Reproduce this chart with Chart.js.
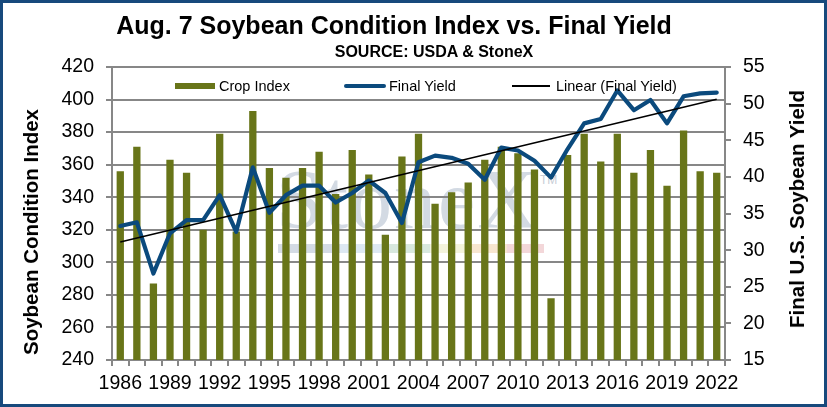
<!DOCTYPE html>
<html lang="en">
<head>
<meta charset="UTF-8">
<title>Aug. 7 Soybean Condition Index vs. Final Yield</title>
<script src="https://cdn.jsdelivr.net/npm/chart.js"></script>
<style>
    html, body { margin: 0; padding: 0; background: #fff; }
    #quadro {
        position: relative;
        width: 827px;
        height: 407px;
        overflow: hidden;
        font-family: "Liberation Sans", Arial, sans-serif;
        color: #000;
    }
    #moldura {
        position: absolute; left: 0; top: 0; right: 0; bottom: 0;
        border: 3px solid #17497c;
        pointer-events: none;
        z-index: 5;
    }
    #grafico { position: absolute; left: 0; top: 0; z-index: 2; }
    .marca {
        position: absolute; z-index: 1;
        font-family: "Liberation Serif", "Times New Roman", serif;
        font-size: 84px; line-height: 1;
        color: #d3dae3; letter-spacing: 2px;
        left: 276px; top: 158px;
        white-space: nowrap;
    }
    .marca sup { font-family: "Liberation Sans", sans-serif; font-size: 12px; letter-spacing: 0; vertical-align: 44px; color: #c8ced6; }
    .faixa {
        position: absolute; z-index: 1; left: 278px; top: 244px; width: 266px; height: 9px;
        background: linear-gradient(to right,
            #d4dbe4 0, #d4dbe4 62px, #dde8f2 62px, #dde8f2 110px,
            #d8e8de 112px, #d8e8de 152px, #f3f3dc 152px, #f3f3dc 192px,
            #f7e6d0 192px, #f7e6d0 229px, #f3d7d9 229px, #f3d7d9 266px);
    }
    .titulo, .subtitulo, .eixo, .leg { position: absolute; white-space: nowrap; z-index: 3; }
    .titulo { font-weight: bold; font-size: 25px; left: 394px; top: 25px; transform: translate(-50%, -50%); }
    .subtitulo { font-weight: bold; font-size: 16px; left: 434px; top: 52px; transform: translate(-50%, -50%); }
    .eixo { font-weight: bold; font-size: 20.5px; transform: translate(-50%, -50%) rotate(-90deg); }
    .leg { font-size: 14.5px; top: 86px; transform: translateY(-50%); }
    .amostra { position: absolute; z-index: 3; }
</style>
</head>
<body>
<div id="quadro">
    <div class="marca">StoneX<sup>TM</sup></div>
    <div class="faixa"></div>

    <canvas id="grafico" width="827" height="407"></canvas>

    <div class="titulo">Aug. 7 Soybean Condition Index vs. Final Yield</div>
    <div class="subtitulo">SOURCE: USDA &amp; StoneX</div>
    <div class="eixo" style="left:31px; top:232px;">Soybean Condition Index</div>
    <div class="eixo" style="left:797px; top:209px;">Final U.S. Soybean Yield</div>

    <div id="legenda"></div>
    <div id="moldura"></div>
</div>

<script>
    // anos da safra
    const anos = ['1986', '1987', '1988', '1989', '1990', '1991', '1992', '1993', '1994', '1995',
        '1996', '1997', '1998', '1999', '2000', '2001', '2002', '2003', '2004', '2005',
        '2006', '2007', '2008', '2009', '2010', '2011', '2012', '2013', '2014', '2015',
        '2016', '2017', '2018', '2019', '2020', '2021', '2022'];

    // indice de condicao em 7 de agosto (eixo esquerdo)
    const indiceCondicao = [356, 371, 287, 363, 355, 320, 379, 319, 393, 358,
        352, 358, 368, 342, 369, 354, 317, 365, 379, 336,
        343, 349, 363, 371, 367, 357, 278, 366, 379, 362,
        379, 355, 369, 347, 381, 356, 355];

    // produtividade final, bu/acre (eixo direito)
    const produtividadeFinal = [33.3, 33.8, 26.8, 32.3, 34.1, 34.1, 37.5, 32.5, 41.3, 35.1,
        37.5, 38.8, 38.8, 36.5, 37.8, 39.5, 37.8, 33.7, 42.0, 42.9,
        42.6, 41.8, 39.6, 44.0, 43.6, 42.2, 39.9, 43.8, 47.3, 47.9,
        51.8, 49.1, 50.5, 47.3, 51.0, 51.4, 51.5];

    // pontas da linha de tendencia
    const tendenciaInicio = 31.1;
    const tendenciaFim = 50.6;

    const ticksEsquerda = [240, 260, 280, 300, 320, 340, 360, 380, 400, 420];
    const ticksDireita = [15, 20, 25, 30, 35, 40, 45, 50, 55];

    const corBarra = '#687519';
    const corLinha = '#0b4a7d';
    const corGrade = '#878787';

    let tendencia = anos.map(() => null);
    tendencia[0] = tendenciaInicio;
    tendencia[anos.length - 1] = tendenciaFim;

    const fonteTick = { family: '"Liberation Sans", Arial, sans-serif', size: 19.5 };

    const ctx = document.getElementById('grafico');
    const grafico = new Chart(ctx, {
        type: 'bar',
        data: {
            labels: anos,
            datasets: [
                {
                    type: 'line',
                    label: 'Linear (Final Yield)',
                    data: tendencia,
                    yAxisID: 'yDir',
                    borderColor: '#000',
                    borderWidth: 1.6,
                    pointRadius: 0,
                    spanGaps: true,
                    order: 1
                },
                {
                    type: 'line',
                    label: 'Final Yield',
                    data: produtividadeFinal,
                    yAxisID: 'yDir',
                    borderColor: corLinha,
                    borderWidth: 4.2,
                    pointRadius: 0,
                    tension: 0,
                    borderJoinStyle: 'round',
                    borderCapStyle: 'round',
                    order: 2
                },
                {
                    label: 'Crop Index',
                    data: indiceCondicao,
                    yAxisID: 'yEsq',
                    backgroundColor: corBarra,
                    barPercentage: 1,
                    categoryPercentage: 0.44,
                    order: 3
                }
            ]
        },
        options: {
            responsive: false,
            animation: false,
            layout: { padding: { top: 67, left: 0, right: 0, bottom: 0 } },
            plugins: {
                legend: { display: false },
                tooltip: { enabled: false },
                title: { display: false }
            },
            scales: {
                x: {
                    offset: true,
                    grid: { offset: true, drawOnChartArea: false, color: corGrade, lineWidth: 2, tickLength: 6 },
                    border: { color: corGrade, width: 2 },
                    ticks: {
                        autoSkip: false,
                        maxRotation: 0,
                        padding: 6,
                        color: '#000',
                        font: fonteTick,
                        callback: function (valor, i) {
                            return i % 3 === 0 ? anos[i] : '';
                        }
                    },
                    afterFit: function (escala) { escala.height = 47; }
                },
                yEsq: {
                    position: 'left',
                    min: 240,
                    max: 420,
                    afterBuildTicks: function (escala) {
                        escala.ticks = ticksEsquerda.map(v => ({ value: v }));
                    },
                    grid: { color: corGrade, lineWidth: 2, tickLength: 6 },
                    border: { color: corGrade, width: 2 },
                    ticks: { padding: 12, color: '#000', font: fonteTick },
                    afterFit: function (escala) { escala.width = 112; }
                },
                yDir: {
                    position: 'right',
                    min: 15,
                    max: 55,
                    afterBuildTicks: function (escala) {
                        escala.ticks = ticksDireita.map(v => ({ value: v }));
                    },
                    grid: { drawOnChartArea: false, color: corGrade, lineWidth: 2, tickLength: 6 },
                    border: { color: corGrade, width: 2 },
                    ticks: { padding: 12, color: '#000', font: fonteTick },
                    afterFit: function (escala) { escala.width = 102; }
                }
            }
        }
    });

    // legenda dentro da area do grafico, como no Excel
    function montarLegenda() {
        const legenda = document.getElementById('legenda');
        const ds = grafico.data.datasets;
        const barra = ds[2], linha = ds[1], linear = ds[0];

        const itens = [
            { x: 175, w: 40, h: 6, cor: barra.backgroundColor, raio: 0, texto: barra.label, tx: 219 },
            { x: 344, w: 42, h: 4, cor: linha.borderColor, raio: 2, texto: linha.label, tx: 389 },
            { x: 512, w: 38, h: 2, cor: linear.borderColor, raio: 0, texto: linear.label, tx: 556 }
        ];

        itens.forEach(function (item) {
            const amostra = document.createElement('div');
            amostra.className = 'amostra';
            amostra.style.left = item.x + 'px';
            amostra.style.top = (86 - item.h / 2) + 'px';
            amostra.style.width = item.w + 'px';
            amostra.style.height = item.h + 'px';
            amostra.style.background = item.cor;
            amostra.style.borderRadius = item.raio + 'px';
            legenda.appendChild(amostra);

            const texto = document.createElement('div');
            texto.className = 'leg';
            texto.style.left = item.tx + 'px';
            texto.textContent = item.texto;
            legenda.appendChild(texto);
        });
    }

    montarLegenda();
</script>
</body>
</html>
